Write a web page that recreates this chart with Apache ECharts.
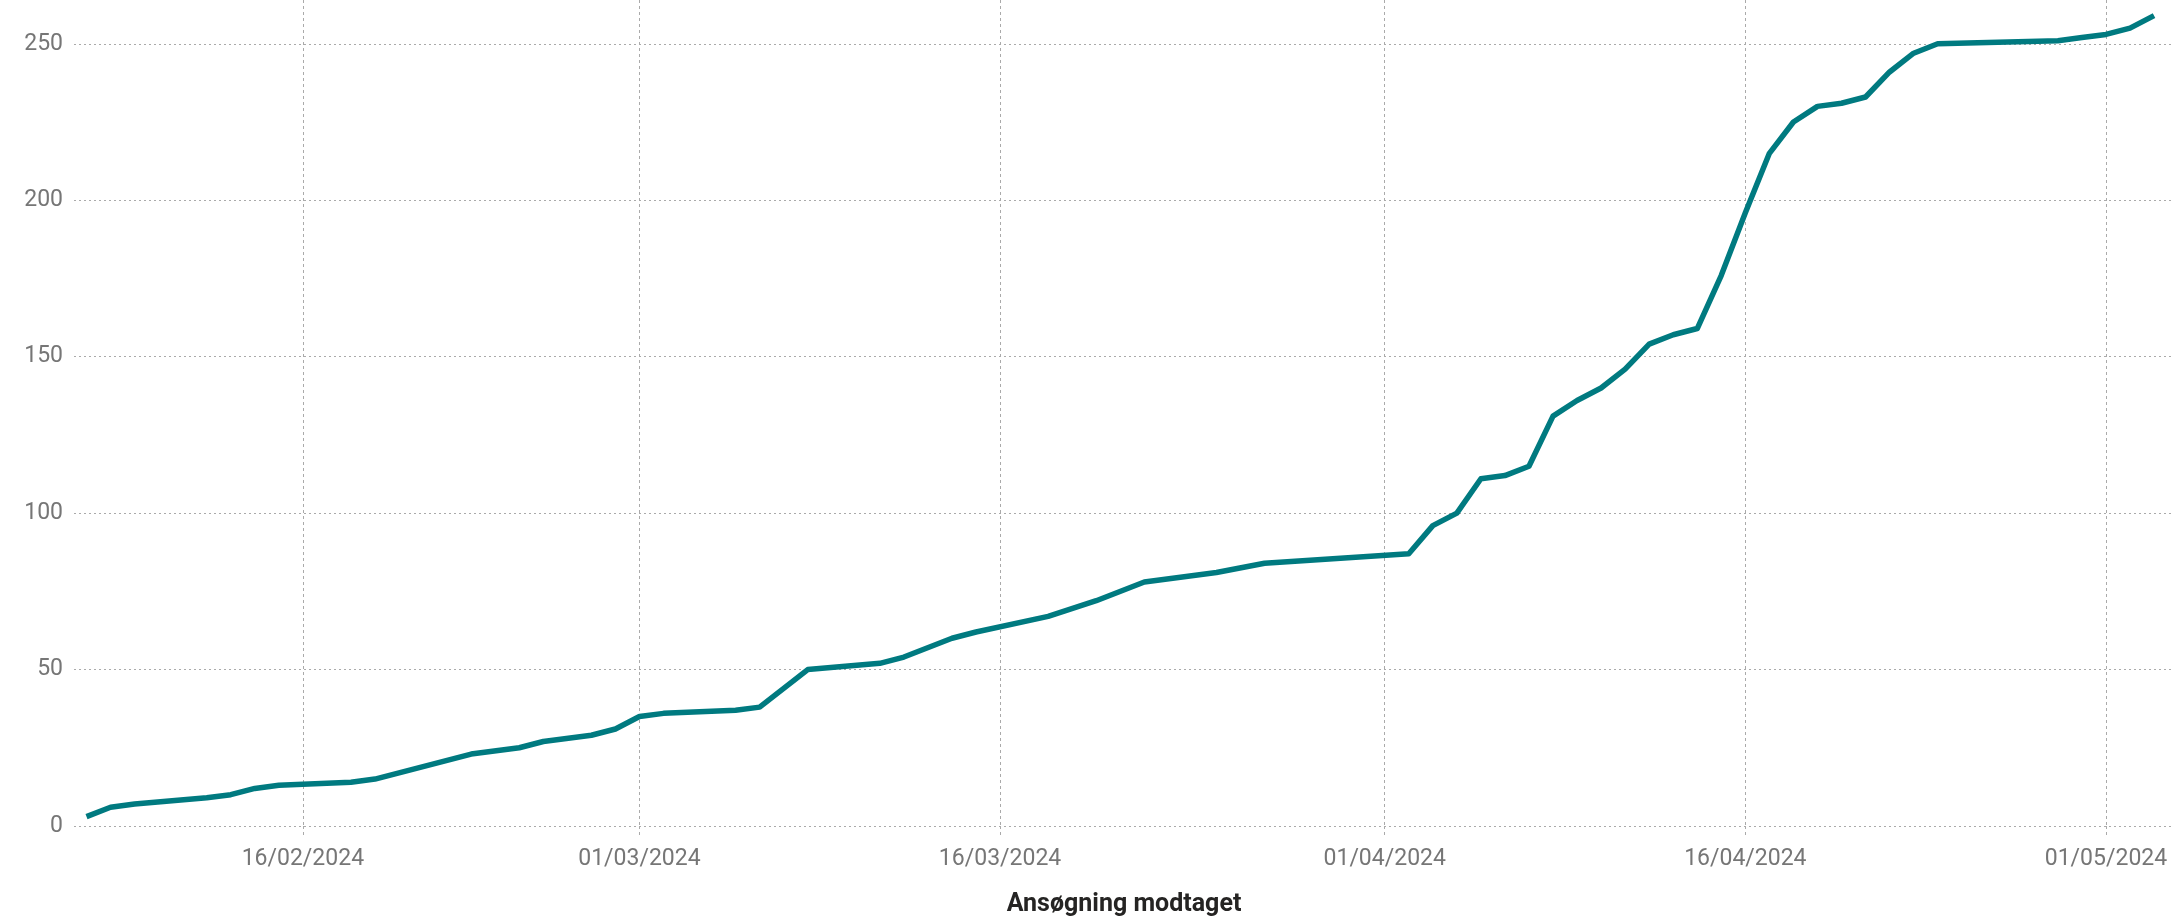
<!DOCTYPE html>
<html>
<head>
<meta charset="utf-8">
<script src="https://cdn.jsdelivr.net/npm/echarts@6/dist/echarts.min.js"></script>
<style>
html,body{margin:0;padding:0;background:#fff;}
#chart{width:2174px;height:922px;}
</style>
</head>
<body>
<div id="chart"></div>
<script>
// Data
const dates = [
  '2024-02-07','2024-02-08','2024-02-09','2024-02-12','2024-02-13','2024-02-14','2024-02-15',
  '2024-02-18','2024-02-19','2024-02-23','2024-02-25','2024-02-26','2024-02-28','2024-02-29',
  '2024-03-01','2024-03-02','2024-03-05','2024-03-06','2024-03-08','2024-03-11','2024-03-12',
  '2024-03-14','2024-03-15','2024-03-18','2024-03-20','2024-03-22','2024-03-25','2024-03-27',
  '2024-04-02','2024-04-03','2024-04-04','2024-04-05','2024-04-06','2024-04-07','2024-04-08',
  '2024-04-09','2024-04-10','2024-04-11','2024-04-12','2024-04-13','2024-04-14','2024-04-15',
  '2024-04-16','2024-04-17','2024-04-18','2024-04-19','2024-04-20','2024-04-21','2024-04-22',
  '2024-04-23','2024-04-24','2024-04-29','2024-04-30','2024-05-01','2024-05-02','2024-05-03'
];
const values = [
  3, 6, 7, 9, 10, 12, 13,
  14, 15, 23, 25, 27, 29, 31,
  35, 36, 37, 38, 50, 52, 54,
  60, 62, 67, 72, 78, 81, 84,
  87, 96, 100, 111, 112, 115, 131,
  136, 140, 146, 154, 157, 159, 176,
  196, 215, 225, 230, 231, 233, 241,
  247, 250, 251, 252, 253, 255, 259
];
const xTickDates = ['2024-02-16','2024-03-01','2024-03-16','2024-04-01','2024-04-16','2024-05-01'];
const yTicks = [0, 50, 100, 150, 200, 250];
const xAxisTitle = 'Ansøgning modtaget';

function ts(s) {
  const p = s.split('-').map(Number);
  return Date.UTC(p[0], p[1] - 1, p[2]);
}
function fmt(v) {
  const d = new Date(v);
  const dd = String(d.getUTCDate()).padStart(2, '0');
  const mm = String(d.getUTCMonth() + 1).padStart(2, '0');
  return dd + '/' + mm + '/' + d.getUTCFullYear();
}

const seriesData = dates.map((d, i) => [ts(d), values[i]]);
const xTicks = xTickDates.map(ts);
const DAY = 86400000;

const chart = echarts.init(document.getElementById('chart'), null, {renderer: 'canvas'});
chart.setOption({
  animation: false,
  backgroundColor: '#ffffff',
  textStyle: {fontFamily: 'Roboto, "Noto Sans", sans-serif'},
  grid: {left: 74, right: 0, top: 0, bottom: 95, containLabel: false},
  xAxis: {
    type: 'value',
    scale: true,
    min: ts('2024-02-06') + 0.48 * DAY,
    max: ts('2024-05-03') + 0.83 * DAY,
    name: xAxisTitle,
    nameLocation: 'middle',
    nameGap: 66,
    nameTextStyle: {color: '#252423', fontSize: 25, fontWeight: 'bold', fontFamily: 'Roboto, sans-serif'},
    axisLine: {show: false},
    axisTick: {
      show: true, length: 12, customValues: xTicks,
      lineStyle: {color: '#aaaaaa', type: [3, 3], width: 1}
    },
    axisLabel: {
      customValues: xTicks,
      formatter: (v) => fmt(v),
      color: '#767676', fontSize: 23, margin: 22,
      fontFamily: 'Roboto, sans-serif'
    },
    splitLine: {show: true, lineStyle: {color: '#aaaaaa', type: [3, 3], width: 1}}
  },
  yAxis: {
    type: 'value',
    min: 0,
    max: 264,
    interval: 50,
    axisLine: {show: false},
    axisTick: {show: false, customValues: yTicks},
    axisLabel: {
      customValues: yTicks,
      color: '#767676', fontSize: 23, margin: 11,
      fontFamily: 'Roboto, sans-serif'
    },
    splitLine: {show: true, lineStyle: {color: '#aaaaaa', type: [2, 3], width: 1}}
  },
  series: [{
    type: 'line',
    data: seriesData,
    showSymbol: false,
    symbol: 'none',
    smooth: false,
    clip: false,
    lineStyle: {color: '#007a80', width: 5.5, join: 'round', cap: 'butt'},
    itemStyle: {color: '#007a80'}
  }]
});
</script>
</body>
</html>
